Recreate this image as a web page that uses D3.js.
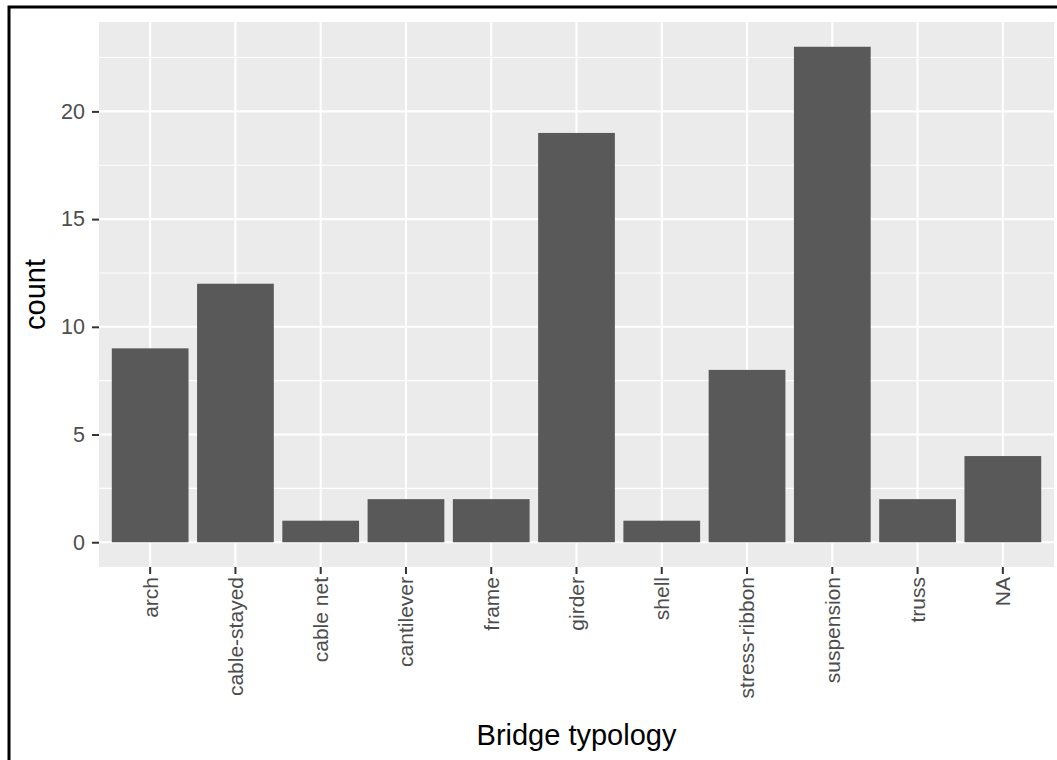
<!DOCTYPE html>
<html><head><meta charset="utf-8">
<script src="https://cdn.jsdelivr.net/npm/d3@7"></script>
<style>body{margin:0;background:#fff}svg{display:block}</style>
</head><body>
<svg id="c" width="1057" height="760"></svg>
<script>
const categories = ["arch","cable-stayed","cable net","cantilever","frame","girder","shell","stress-ribbon","suspension","truss","NA"];
const counts = [9,12,1,2,2,19,1,8,23,2,4];
const yTicks = [0,5,10,15,20];
const yMinor = [2.5,7.5,12.5,17.5,22.5];

const svg = d3.select("#c");
const W = 1057, H = 760;
const m = {left: 99, right: 1054, top: 22, bottom: 567};
const font = "'Liberation Sans', Arial, sans-serif";

svg.append("rect").attr("x",9).attr("y",7).attr("width",W+20).attr("height",H+20)
  .attr("fill","#fff").attr("stroke","#000").attr("stroke-width",3);

const yMax = d3.max(counts);
const y = d3.scaleLinear().domain([-0.05*yMax, yMax*1.05]).range([m.bottom, m.top]);
const n = categories.length;
const xc = d3.scaleLinear().domain([0.4, n+0.6]).range([m.left, m.right]);
const x = d3.scaleBand().domain(categories).range([xc(0.5), xc(n+0.5)]).paddingInner(0.1).paddingOuter(0.05);

svg.append("rect").attr("x",m.left).attr("y",m.top).attr("width",m.right-m.left).attr("height",m.bottom-m.top).attr("fill","#EBEBEB");

const g = svg.append("g");
g.selectAll(".ymin").data(yMinor).join("line")
  .attr("x1",m.left).attr("x2",m.right).attr("y1",d=>y(d)).attr("y2",d=>y(d))
  .attr("stroke","#fff").attr("stroke-width",1.1);
g.selectAll(".ymaj").data(yTicks).join("line")
  .attr("x1",m.left).attr("x2",m.right).attr("y1",d=>y(d)).attr("y2",d=>y(d))
  .attr("stroke","#fff").attr("stroke-width",2.1);
g.selectAll(".xmaj").data(categories).join("line")
  .attr("x1",d=>x(d)+x.bandwidth()/2).attr("x2",d=>x(d)+x.bandwidth()/2).attr("y1",m.top).attr("y2",m.bottom)
  .attr("stroke","#fff").attr("stroke-width",2.1);

svg.selectAll(".bar").data(categories).join("rect")
  .attr("x",d=>x(d)).attr("width",x.bandwidth())
  .attr("y",(d,i)=>y(counts[i])).attr("height",(d,i)=>y(0)-y(counts[i]))
  .attr("fill","#595959");

// y axis
const ya = svg.append("g").attr("transform",`translate(${m.left},0)`)
  .call(d3.axisLeft(y).tickValues(yTicks).tickSize(7).tickPadding(7));
ya.select(".domain").remove();
ya.selectAll("line").attr("stroke","#333").attr("stroke-width",2);
ya.selectAll("text").attr("fill","#4D4D4D").style("font-family",font).style("font-size","21.5px");

// x axis
const xa = svg.append("g").attr("transform",`translate(0,${m.bottom})`)
  .call(d3.axisBottom(x).tickSize(7).tickPadding(0));
xa.select(".domain").remove();
xa.selectAll("line").attr("stroke","#333").attr("stroke-width",2);
xa.selectAll("text").attr("fill","#4D4D4D").style("font-family",font).style("font-size","21px")
  .attr("transform","rotate(-90)").attr("text-anchor","end").attr("dy","0.35em").attr("x",-10).attr("y",0);

svg.append("text").attr("x",(m.left+m.right)/2).attr("y",745).attr("text-anchor","middle")
  .style("font-family",font).style("font-size","29px").attr("fill","#000").text("Bridge typology");
svg.append("text").attr("transform",`translate(45,${(m.top+m.bottom)/2}) rotate(-90)`).attr("text-anchor","middle")
  .style("font-family",font).style("font-size","29px").attr("fill","#000").text("count");
</script>
</body></html>
